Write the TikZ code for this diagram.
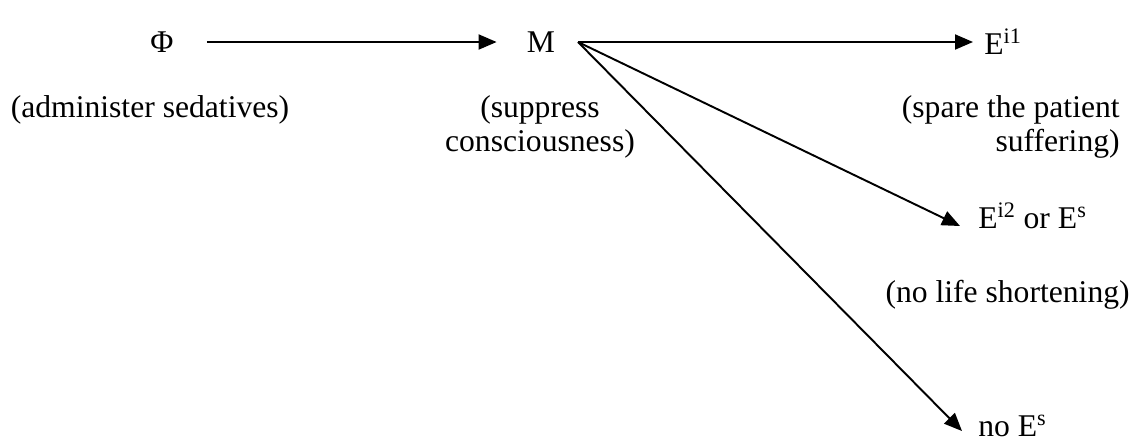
\documentclass[tikz,border=0pt]{standalone}
\usepackage{fontspec}
\setmainfont{Liberation Serif}
\usepackage{tikz}
\usepackage{xcolor}
\usetikzlibrary{arrows.meta,positioning,calc}
\definecolor{ink}{HTML}{000000}
\tikzset{
  lbl/.style={inner sep=0pt,font=\fontsize{18}{19}\selectfont,text=ink},
  note/.style={inner sep=0pt,font=\fontsize{18}{19}\selectfont,text=ink},
  blkarr/.style={-{Triangle[length=0.36cm,width=0.3cm]},line width=1.1pt,
                 draw=ink}
}
\begin{document}
\begin{tikzpicture}[x=0.02cm,y=-0.02cm]
    \path[use as bounding box] (0,0) rectangle (1133,441);
    \node[lbl] (phi) at (162,42) {Φ};
    \node[lbl] (m) at (541,42) {M};
    \coordinate (mout) at (578,42);
    \node[lbl,anchor=west] (ei1) at (984,42) {E\textsuperscript{i1}};
    \node[lbl,anchor=west] (ei2) at (978,216) {E\textsuperscript{i2} or E\textsuperscript{s}};
    \node[lbl,anchor=west] (noes) at (978,426) {no E\textsuperscript{s}};
    \node[note] (sed) at (150,110) {(administer sedatives)};
    \node[note,align=center] (sup) at (540,127) {(suppress\\consciousness)};
    \node[note,align=right,anchor=east] (spare) at (1120,127)
      {(spare the patient\\suffering)};
    \node[note,anchor=east] (nols) at (1130,295) {(no life shortening)};
    \draw[blkarr,shorten <=0.66cm,shorten >=0.6cm] (phi) -- (m);
    \draw[blkarr,shorten >=0.22cm] (mout) -- (ei1.west);
    \draw[blkarr] (mout) -- ([xshift=-0.36cm,yshift=-0.2cm]ei2.west);
    \draw[blkarr] (mout) -- ([xshift=-0.32cm,yshift=-0.1cm]noes.west);
  \end{tikzpicture}
\end{document}
